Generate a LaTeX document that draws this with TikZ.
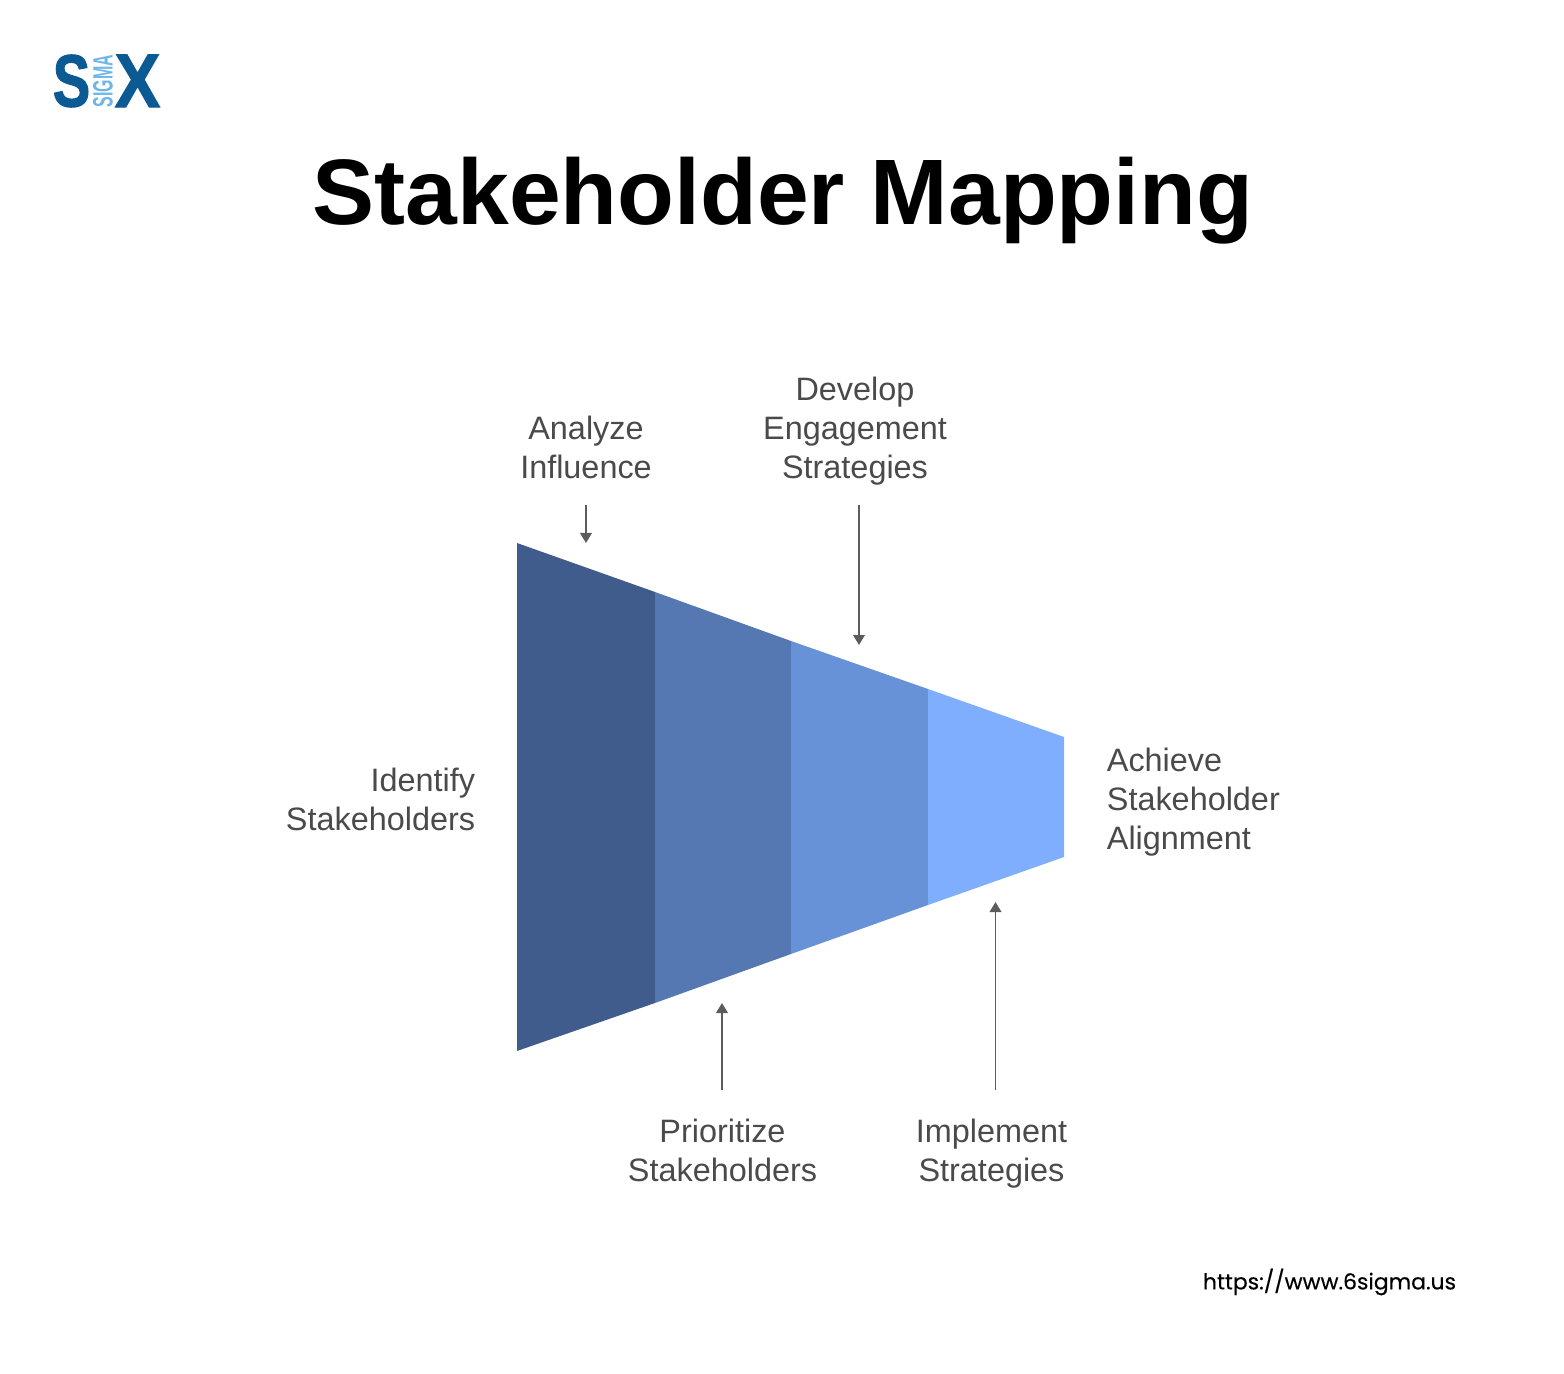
\documentclass[tikz,border=0pt]{standalone}
\usepackage{fontspec}
\setmainfont{Liberation Sans}
\newfontfamily\urlfont[FakeBold=0.35]{Poppins}
\newfontfamily\logofont[BoldFeatures={FakeBold=1.6}]{Liberation Sans}
\usetikzlibrary{arrows.meta}
\definecolor{inkgrey}{HTML}{4A4A4A}
\definecolor{logoblue}{HTML}{0B5A94}
\definecolor{logosky}{HTML}{6DB6E8}
\definecolor{stageA}{HTML}{3F5C8C}
\definecolor{stageB}{HTML}{5578B3}
\definecolor{stageC}{HTML}{6892D8}
\definecolor{stageD}{HTML}{7FAEFF}
\tikzset{
  label/.style={inner sep=0pt,text=inkgrey,font=\fontsize{16.2}{19.5}\selectfont},
  pointer/.style={draw=inkgrey!90,line width=0.9pt,-{Triangle[length=5pt,width=5.8pt]}},
}
\begin{document}
\begin{tikzpicture}[x=0.5pt,y=-0.5pt]
    \useasboundingbox (0,0) rectangle (1564,1374);
    % logo
    \node[inner sep=0pt,text=logoblue,font=\fontsize{37}{37}\logofont\bfseries\selectfont] (logoS) at (71.5,81) {\scalebox{0.76}[1]{S}};
    \node[inner sep=0pt,text=logoblue,font=\fontsize{38}{38}\logofont\bfseries\selectfont] (logoX) at (137.5,81) {\scalebox{0.9}[1]{X}};
    \node[inner sep=0pt,text=logosky,font=\fontsize{14}{14}\bfseries\selectfont,rotate=90] (logoSigma) at (103,81) {\scalebox{0.57}[1]{SIGMA}};
    % title and url
    \node[inner sep=0pt,font=\fontsize{46.5}{49}\bfseries\selectfont] (title) at (783,201) {Stakeholder Mapping};
    \node[inner sep=0pt,font=\fontsize{10.95}{14}\selectfont\urlfont] (url) at (1329.5,1282) {https://www.6sigma.us};
    % funnel
    \fill[stageA] (517,543) -- (655,592) -- (655,1003) -- (517,1051) -- cycle;
    \fill[stageB] (655,592) -- (791,641) -- (791,954) -- (655,1003) -- cycle;
    \fill[stageC] (791,641) -- (928,689) -- (928,905) -- (791,954) -- cycle;
    \fill[stageD] (928,689) -- (1064,737) -- (1064,857) -- (928,905) -- cycle;
    % labels
    \node[label,align=right,anchor=east] (identify) at (475.5,799) {Identify\\Stakeholders};
    \node[label,align=center] (analyze) at (586,447.5) {Analyze\\Influence};
    \node[label,align=center] (develop) at (855,431) {Develop\\Engagement\\Strategies};
    \node[label,align=center] (prioritize) at (722.5,1150) {Prioritize\\Stakeholders};
    \node[label,align=center] (implement) at (991.5,1154) {Implement\\Strategies};
    \node[label,align=left,anchor=west] (achieve) at (1106.5,802) {Achieve\\Stakeholder\\Alignment};
    % arrows
    \coordinate (analyzeTail) at (586,505);
    \coordinate (analyzeTip) at (586,543);
    \coordinate (developTail) at (859,505);
    \coordinate (developTip) at (859,645);
    \coordinate (prioritizeTail) at (722,1090);
    \coordinate (prioritizeTip) at (722,1003);
    \coordinate (implementTail) at (995.5,1090);
    \coordinate (implementTip) at (995.5,902);
    \draw[pointer] (analyzeTail) -- (analyzeTip);
    \draw[pointer] (developTail) -- (developTip);
    \draw[pointer] (prioritizeTail) -- (prioritizeTip);
    \draw[pointer] (implementTail) -- (implementTip);
\end{tikzpicture}
\end{document}
